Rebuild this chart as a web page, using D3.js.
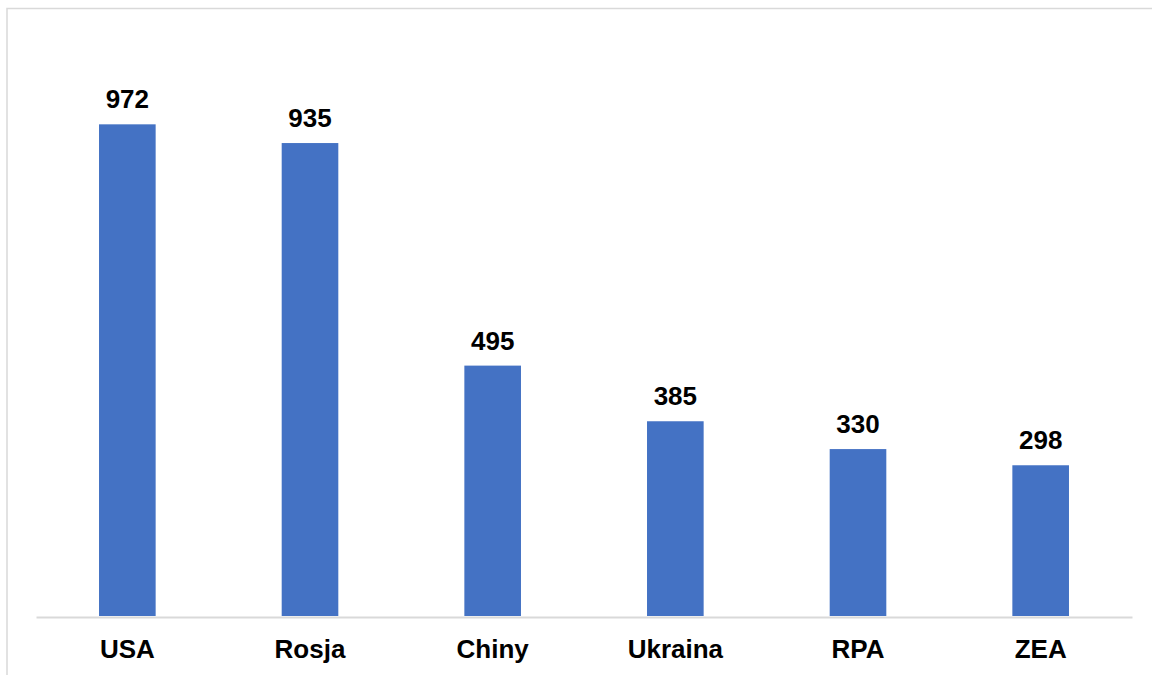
<!DOCTYPE html>
<html>
<head>
<meta charset="utf-8">
<script src="https://cdn.jsdelivr.net/npm/d3@7"></script>
<style>
  html, body { margin: 0; padding: 0; background: #fff; }
  svg { display: block; }
</style>
</head>
<body>
<svg id="chart" width="1152" height="675"></svg>
<script>
// Countries and their values
const categories = ["USA", "Rosja", "Chiny", "Ukraina", "RPA", "ZEA"];
const values = [972, 935, 495, 385, 330, 298];

const W = 1152, H = 675;
const svg = d3.select("#chart");

// Outer chart frame (extends beyond the right and bottom edges)
svg.append("rect")
  .attr("x", 7).attr("y", 8.5)
  .attr("width", W + 20).attr("height", H + 20)
  .attr("fill", "#fff")
  .attr("stroke", "#d9d9d9")
  .attr("stroke-width", 1.5);

const plot = { left: 36, right: 1132, top: 9, bottom: 616 };

const x = d3.scaleBand()
  .domain(categories)
  .range([plot.left, plot.right])
  .paddingInner(0.69)
  .paddingOuter(0.345);

const y = d3.scaleLinear()
  .domain([0, 1200])
  .range([plot.bottom, plot.top]);

const data = categories.map((c, i) => ({ c, v: values[i] }));

// Bars
svg.append("g").selectAll("rect")
  .data(data)
  .join("rect")
  .attr("x", d => x(d.c))
  .attr("y", d => y(d.v))
  .attr("width", x.bandwidth())
  .attr("height", d => y(0) - y(d.v))
  .attr("fill", "#4472c4");

// Category axis
const xAxis = svg.append("g")
  .attr("transform", `translate(0,${plot.bottom + 1})`)
  .call(d3.axisBottom(x).tickSize(0).tickPadding(0));
xAxis.select(".domain")
  .attr("stroke", "#d9d9d9")
  .attr("stroke-width", 2);
xAxis.selectAll("text")
  .attr("dy", null)
  .attr("y", 41)
  .attr("font-family", "'Liberation Sans', Arial, sans-serif")
  .attr("font-size", 26)
  .attr("font-weight", "bold")
  .attr("fill", "#000");

// Value labels
svg.append("g").selectAll("text")
  .data(data)
  .join("text")
  .attr("x", d => x(d.c) + x.bandwidth() / 2)
  .attr("y", d => y(d.v) - 16)
  .attr("text-anchor", "middle")
  .attr("font-family", "'Liberation Sans', Arial, sans-serif")
  .attr("font-size", 26)
  .attr("font-weight", "bold")
  .attr("fill", "#000")
  .text(d => d.v);
</script>
</body>
</html>
